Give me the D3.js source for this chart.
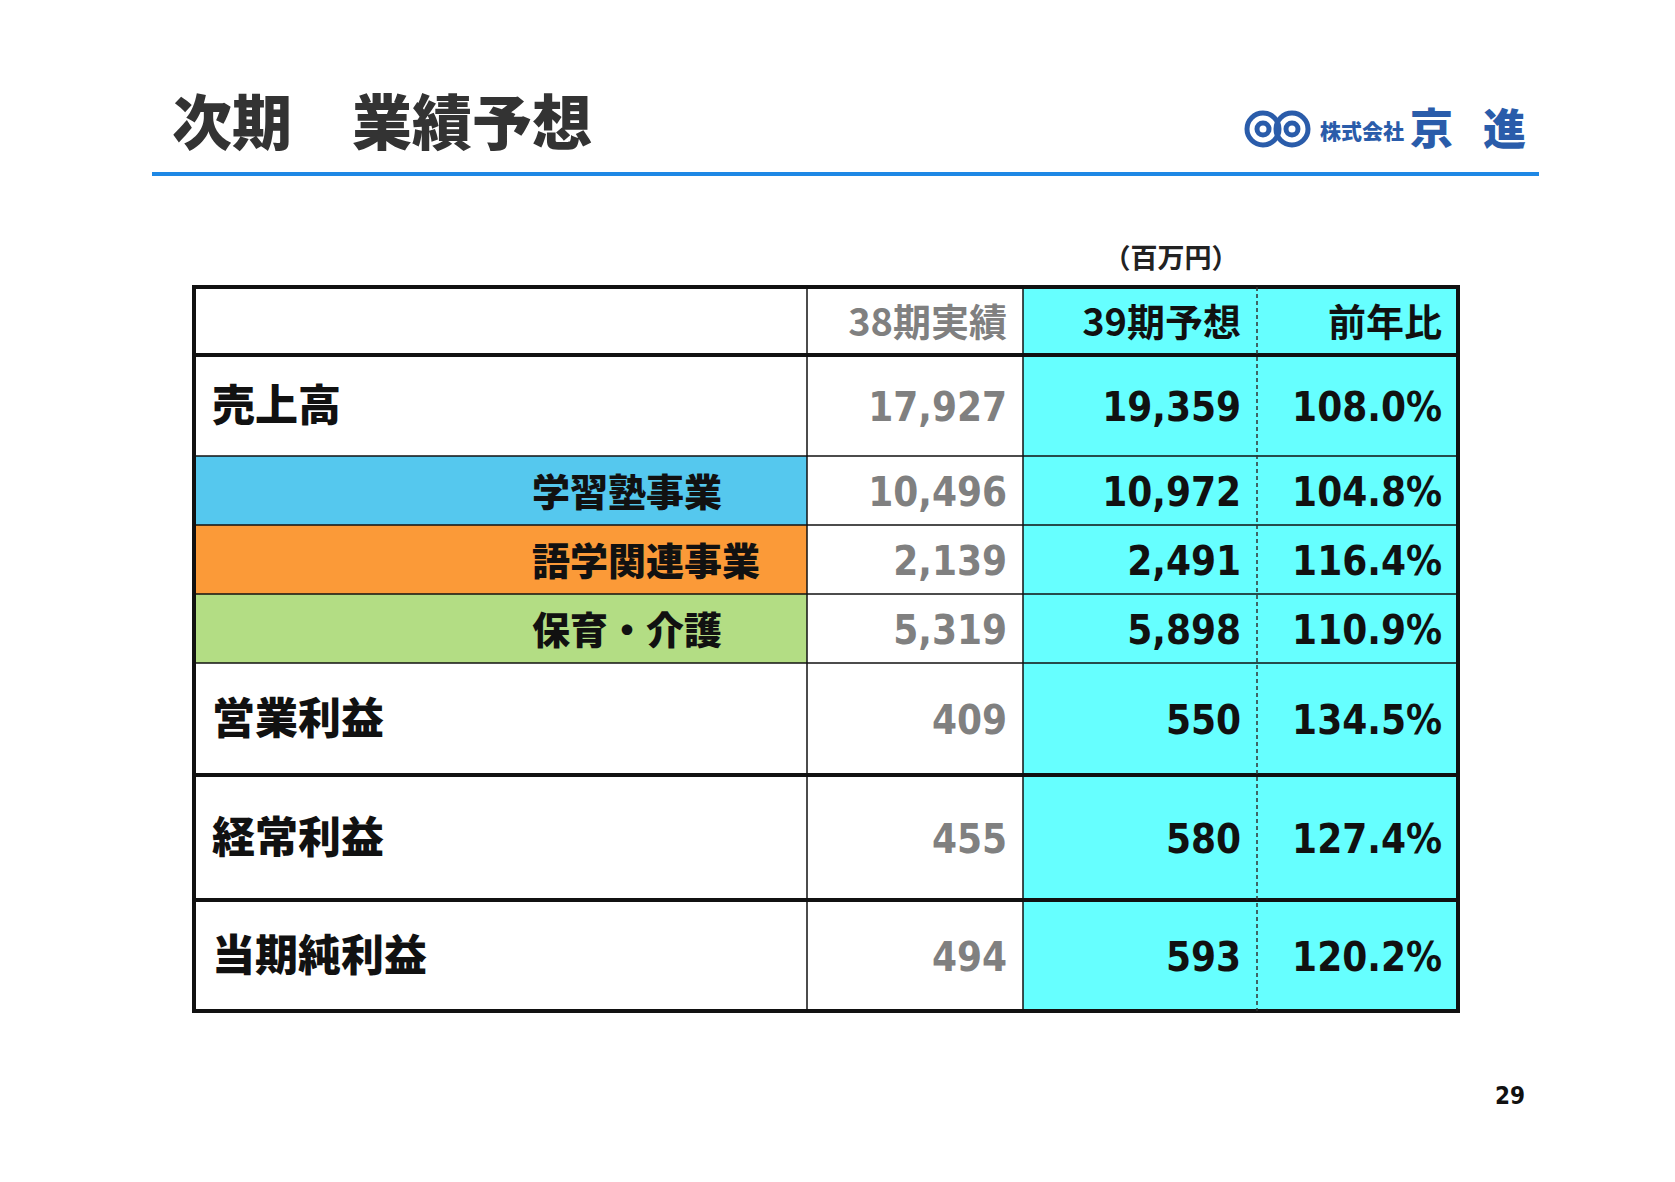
<!DOCTYPE html>
<html><head><meta charset="utf-8">
<script src="https://cdn.jsdelivr.net/npm/d3@7"></script>
<style>body{margin:0;background:#fff}</style>
</head><body>
<svg id="c" width="1675" height="1182"></svg>
<script>
const labels = ["売上高", "学習塾事業", "語学関連事業", "保育・介護", "営業利益", "経常利益", "当期純利益"];
const actual38 = ["17,927", "10,496", "2,139", "5,319", "409", "455", "494"];
const forecast39 = ["19,359", "10,972", "2,491", "5,898", "550", "580", "593"];
const yoy = ["108.0%", "104.8%", "116.4%", "110.9%", "134.5%", "127.4%", "120.2%"];
const headers = ["", "38期実績", "39期予想", "前年比"];
const rowFill = ["#fff", "#55c8ee", "#fb9a38", "#b3dd84", "#fff", "#fff", "#fff"];
const subRow = [false, true, true, true, false, false, false];

const svg = d3.select("#c");
const JP = "'Noto Sans CJK JP', sans-serif";
const NUM = "'DejaVu Sans Condensed', 'DejaVu Sans', sans-serif";

// title
svg.append("text").attr("x", 172).attr("y", 145).attr("font-family", JP).attr("font-weight", 900)
  .attr("font-size", 60).attr("fill", "#333").text("次期　業績予想");
svg.append("rect").attr("x", 152).attr("y", 172).attr("width", 1387).attr("height", 4).attr("fill", "#1e88e5");

// logo
const logo = svg.append("g").attr("fill", "none").attr("stroke", "#2a5caa").attr("stroke-width", 5);
logo.append("circle").attr("cx", 1263).attr("cy", 129).attr("r", 16);
logo.append("circle").attr("cx", 1292).attr("cy", 129).attr("r", 16);
logo.append("circle").attr("cx", 1263).attr("cy", 129).attr("r", 6);
logo.append("circle").attr("cx", 1292).attr("cy", 129).attr("r", 6);
svg.append("text").attr("x", 1320).attr("y", 139).attr("font-family", JP).attr("font-weight", 900)
  .attr("font-size", 21).attr("fill", "#2a5caa").text("株式会社");
svg.append("text").attr("x", 1410).attr("y", 145).attr("font-family", JP).attr("font-weight", 900)
  .attr("font-size", 43).attr("fill", "#2a5caa").attr("letter-spacing", 30).text("京進");

svg.append("text").attr("x", 1171).attr("y", 268).attr("text-anchor", "middle").attr("font-family", JP)
  .attr("font-weight", 700).attr("font-size", 27).attr("fill", "#222").text("（百万円）");

// table geometry
const left = 194, right = 1458;
const colEdges = [left, 807, 1023, 1257, right];
const rowH = [68, 101, 69, 69, 69, 112, 125, 111];
const tableTop = 287;
const rowEdges = d3.cumsum([0, ...rowH]).map(v => tableTop + v);
const x = d3.scaleOrdinal().domain([0, 1, 2, 3, 4]).range(colEdges);
const y = d3.scaleOrdinal().domain(d3.range(rowEdges.length)).range(rowEdges);

const g = svg.append("g");
// fills
labels.forEach((l, i) => {
  const r = i + 1;
  g.append("rect").attr("x", x(0)).attr("y", y(r)).attr("width", x(1) - x(0)).attr("height", y(r + 1) - y(r)).attr("fill", rowFill[i]);
});
g.append("rect").attr("x", x(2)).attr("y", y(0)).attr("width", x(4) - x(2)).attr("height", y(8) - y(0)).attr("fill", "#66ffff");

// headers
headers.forEach((h, j) => {
  if (!h) return;
  g.append("text").attr("x", x(j + 1) - 16).attr("y", (y(0) + y(1)) / 2 + 15).attr("text-anchor", "end")
    .attr("font-family", JP).attr("font-weight", 700).attr("font-size", 38)
    .attr("fill", j === 1 ? "#808080" : "#111").text(h);
});

// rows
labels.forEach((l, i) => {
  const r = i + 1, cy = (y(r) + y(r + 1)) / 2 + 15;
  g.append("text").attr("x", subRow[i] ? 532 : 212).attr("y", cy).attr("font-family", JP).attr("font-weight", 900)
    .attr("font-size", subRow[i] ? 38 : 43).attr("fill", "#111").text(l);
  [actual38[i], forecast39[i], yoy[i]].forEach((v, j) => {
    g.append("text").attr("x", x(j + 2) - 16).attr("y", cy).attr("text-anchor", "end")
      .attr("font-family", NUM).attr("font-weight", 700).attr("font-size", 40)
      .attr("fill", j === 0 ? "#808080" : "#111").text(v);
  });
});

// lines
const thick = new Set([0, 1, 6, 7, 8]);
rowEdges.forEach((yy, k) => {
  g.append("line").attr("x1", left).attr("x2", right).attr("y1", yy).attr("y2", yy)
    .attr("stroke", "#111").attr("stroke-width", thick.has(k) ? 4 : 1.5);
});
[1, 2].forEach(c => g.append("line").attr("x1", x(c)).attr("x2", x(c)).attr("y1", y(0)).attr("y2", y(8)).attr("stroke", "#111").attr("stroke-width", 1.5));
g.append("line").attr("x1", x(3)).attr("x2", x(3)).attr("y1", y(0)).attr("y2", y(8)).attr("stroke", "#333")
  .attr("stroke-width", 1.5).attr("stroke-dasharray", "4,3");
[0, 4].forEach(c => g.append("line").attr("x1", x(c)).attr("x2", x(c)).attr("y1", y(0) - 2).attr("y2", y(8) + 2).attr("stroke", "#111").attr("stroke-width", 4));

svg.append("text").attr("x", 1525).attr("y", 1104).attr("text-anchor", "end").attr("font-family", NUM)
  .attr("font-weight", 700).attr("font-size", 24).attr("fill", "#111").text("29");
</script>
</body></html>
